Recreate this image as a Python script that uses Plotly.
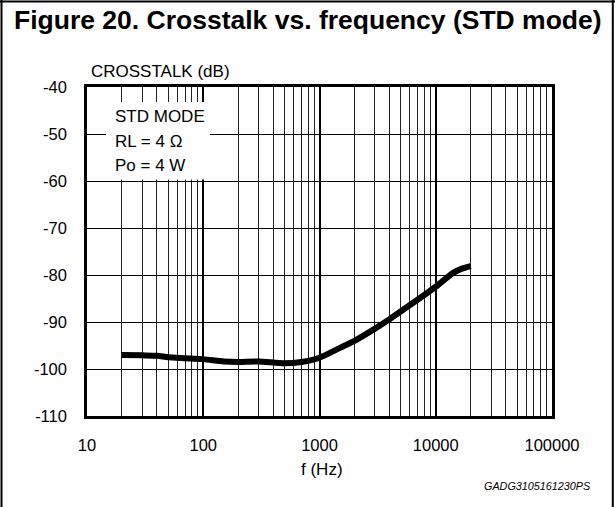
import plotly.graph_objects as go

# ---- data ----
freq_hz = [20, 30, 40, 50, 70, 100, 150, 200, 300, 500, 700, 1000, 1500, 2000,
           3000, 4000, 6000, 10000, 14000, 17000, 20000]
crosstalk_db = [-97.0, -97.1, -97.2, -97.5, -97.7, -97.9, -98.4, -98.5, -98.4,
                -98.8, -98.5, -97.6, -95.5, -94.0, -91.4, -89.4, -86.4, -82.5,
                -79.6, -78.6, -78.1]
x_major = [10, 100, 1000, 10000, 100000]
x_major_text = ["10", "100", "1000", "10000", "100000"]
x_minor = [m * d for d in [10, 100, 1000, 10000] for m in range(2, 10)]
y_ticks = [-40, -50, -60, -70, -80, -90, -100, -110]
y_tick_text = ["-40", "-50", "-60", "-70", "-80", "-90", "-100", "-110"]
legend_lines = ["STD MODE", "RL = 4 Ω", "Po = 4 W"]

W, H = 615, 507
L, R, T, B = 87, 552, 87, 416
FONT = "Liberation Sans, Arial, sans-serif"

def px(x):
    return (x - L) / (R - L)

def py(y):
    return (B - y) / (B - T)

fig = go.Figure()
fig.add_trace(go.Scatter(
    x=freq_hz, y=crosstalk_db, mode="lines",
    line=dict(color="black", width=6, shape="spline", smoothing=0.6),
    hoverinfo="skip", showlegend=False))

fig.update_layout(
    width=W, height=H,
    margin=dict(l=L, r=W - R, t=T, b=H - B),
    paper_bgcolor="white", plot_bgcolor="white",
    font=dict(family=FONT, color="black", size=16.5),
    showlegend=False,
    xaxis=dict(
        type="log", range=[1, 5],
        tickmode="array", tickvals=x_major, ticktext=x_major_text,
        showgrid=True, gridcolor="black", gridwidth=2,
        showline=True, linecolor="black", linewidth=2.5, mirror=True,
        ticks="", ticklabelstandoff=12, zeroline=False,
        tickfont=dict(size=16.5),
        minor=dict(tickmode="array", tickvals=x_minor, showgrid=True,
                   gridcolor="#222222", gridwidth=1.2, ticks=""),
    ),
    yaxis=dict(
        range=[-110, -40], tickmode="array", tickvals=y_ticks,
        ticktext=y_tick_text,
        showgrid=True, gridcolor="black", gridwidth=1.3,
        showline=True, linecolor="black", linewidth=2.5, mirror=True,
        ticks="", ticklabelstandoff=14, zeroline=False,
        tickfont=dict(size=16.5),
    ),
)

shapes = [
    # legend box (white) covering grid
    dict(type="rect", xref="paper", yref="paper",
         x0=px(106), x1=px(210), y0=py(179.5), y1=py(102),
         fillcolor="white", line=dict(width=0), layer="above"),
    # outer frame
    dict(type="line", xref="paper", yref="paper", x0=px(1.5), x1=px(1.5),
         y0=py(0), y1=py(H), line=dict(color="black", width=2)),
    dict(type="line", xref="paper", yref="paper", x0=px(612.8), x1=px(612.8),
         y0=py(0), y1=py(H), line=dict(color="black", width=2)),
    dict(type="line", xref="paper", yref="paper", x0=px(0), x1=px(W),
         y0=py(1.5), y1=py(1.5), line=dict(color="black", width=2)),
]
fig.update_layout(shapes=shapes)

ann = [
    dict(text="<b>Figure 20. Crosstalk vs. frequency (STD mode)</b>",
         x=px(307.5), y=py(20), xanchor="center", yanchor="middle",
         font=dict(size=26.5)),
    dict(text="CROSSTALK (dB)", x=px(88.5), y=py(71.5),
         xanchor="left", yanchor="middle", font=dict(size=17)),
    dict(text="f (Hz)", x=px(322), y=py(469),
         xanchor="center", yanchor="middle", font=dict(size=17)),
    dict(text="<i>GADG3105161230PS</i>", x=px(592.5), y=py(485.5),
         xanchor="right", yanchor="middle", font=dict(size=10.8)),
]
for i, t in enumerate(legend_lines):
    ann.append(dict(text=t, x=px(112.5), y=py(117 + 24 * i),
                    xanchor="left", yanchor="middle", font=dict(size=17)))
for a in ann:
    a.update(xref="paper", yref="paper", showarrow=False)
fig.update_layout(annotations=ann)

fig.write_html(
    "out.html",
    config={"displayModeBar": False},
    post_script="document.body.style.margin='0';"
                "document.body.style.overflow='hidden';",
)
